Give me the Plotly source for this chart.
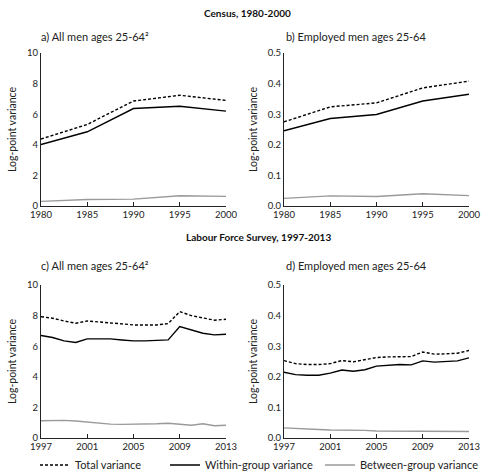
import plotly.graph_objects as go
from plotly.subplots import make_subplots

census_years = [1980, 1985, 1990, 1995, 2000]
a_total = [4.38, 5.33, 6.86, 7.24, 6.9]
a_within = [4.02, 4.85, 6.37, 6.52, 6.2]
a_between = [0.3, 0.42, 0.45, 0.67, 0.63]
b_total = [0.275, 0.324, 0.337, 0.386, 0.408]
b_within = [0.246, 0.286, 0.299, 0.343, 0.365]
b_between = [0.025, 0.033, 0.031, 0.040, 0.034]

lfs_years = list(range(1997, 2014))
c_total = [7.93, 7.83, 7.65, 7.5, 7.65, 7.57, 7.52, 7.46, 7.39, 7.39, 7.39, 7.48, 8.26, 8.0, 7.87, 7.7, 7.76]
c_within = [6.7, 6.57, 6.35, 6.24, 6.48, 6.46, 6.48, 6.41, 6.35, 6.35, 6.39, 6.41, 7.28, 7.07, 6.85, 6.74, 6.78]
c_between = [1.13, 1.15, 1.15, 1.11, 1.04, 0.96, 0.91, 0.89, 0.89, 0.93, 0.93, 0.96, 0.89, 0.83, 0.93, 0.8, 0.83]
d_total = [0.253, 0.243, 0.240, 0.240, 0.243, 0.253, 0.249, 0.255, 0.263, 0.265, 0.266, 0.266, 0.281, 0.274, 0.275, 0.277, 0.286]
d_within = [0.215, 0.207, 0.205, 0.205, 0.212, 0.222, 0.218, 0.223, 0.235, 0.238, 0.240, 0.239, 0.252, 0.248, 0.249, 0.252, 0.262]
d_between = [0.033, 0.032, 0.031, 0.028, 0.026, 0.026, 0.025, 0.025, 0.023, 0.023, 0.022, 0.022, 0.023, 0.022, 0.023, 0.022, 0.021]

series_names = ["Total variance", "Within-group variance", "Between-group variance"]
panel_titles = ["a) All men ages 25-64²", "b) Employed men ages 25-64",
                "c) All men ages 25-64²", "d) Employed men ages 25-64"]
section_titles = ["Census, 1980-2000", "Labour Force Survey, 1997-2013"]
census_ticks = [1980, 1985, 1990, 1995, 2000]
lfs_ticks = [1997, 2001, 2005, 2009, 2013]

FONT = "Lato, sans-serif"
W, H = 481, 476

fig = make_subplots(rows=2, cols=2)

styles = [dict(color="black", width=1.4, dash="3px,2px"),
          dict(color="black", width=1.4),
          dict(color="#9a9a9a", width=1.4)]
legend_ids = ["legend", "legend2", "legend3"]

panels = [
    (1, 1, census_years, [a_total, a_within, a_between]),
    (1, 2, census_years, [b_total, b_within, b_between]),
    (2, 1, lfs_years, [c_total, c_within, c_between]),
    (2, 2, lfs_years, [d_total, d_within, d_between]),
]
for i, (r, c, xs, ys) in enumerate(panels):
    for j, y in enumerate(ys):
        fig.add_trace(go.Scatter(x=xs, y=y, mode="lines", name=series_names[j],
                                 line=styles[j], showlegend=(i == 0),
                                 legend=legend_ids[j]), row=r, col=c)

def px_x(p):
    return p / W

def px_y(p):
    return 1 - p / H

xdom = [(px_x(41), px_x(226)), (px_x(284), px_x(469))]
ydom = [(px_y(206), px_y(53)), (px_y(438), px_y(285))]

axis_font = dict(family=FONT, size=9.5, color="#222")
for i, (r, c, xs, ys) in enumerate(panels):
    k = i + 1
    xa = "xaxis" if k == 1 else f"xaxis{k}"
    ya = "yaxis" if k == 1 else f"yaxis{k}"
    ticks = census_ticks if r == 1 else lfs_ticks
    pct = (c == 2)
    fig.layout[xa].update(domain=xdom[c - 1], range=[xs[0], xs[-1]], tickvals=ticks,
                          showline=True, linecolor="#222", linewidth=1, showgrid=False,
                          zeroline=False, ticks="inside", ticklen=4, tickcolor="#222",
                          tickfont=axis_font, automargin=False, ticklabeloverflow="allow")
    fig.layout[ya].update(domain=ydom[r - 1], range=[0, 0.5] if pct else [0, 10],
                          tickvals=[0, 0.1, 0.2, 0.3, 0.4, 0.5] if pct else [0, 2, 4, 6, 8, 10],
                          tickformat=".1f" if pct else "d",
                          showline=True, linecolor="#222", linewidth=1, showgrid=False,
                          zeroline=False, ticks="", tickfont=axis_font, automargin=False,
                          ticklabeloverflow="allow",
                          title=dict(text="Log-point variance", standoff=8,
                                     font=dict(family=FONT, size=10.5, color="#222")))

annotations = [
    dict(text="<b>" + section_titles[0] + "</b>", x=px_x(247), y=px_y(13)),
    dict(text="<b>" + section_titles[1] + "</b>", x=px_x(258), y=px_y(237)),
]
for a in annotations:
    a.update(xref="paper", yref="paper", xanchor="center", yanchor="middle",
             showarrow=False, font=dict(family=FONT, size=10, color="#111"))
pt_pos = [(39, 37), (284, 37), (39, 265), (284, 265)]
for t, (x, y) in zip(panel_titles, pt_pos):
    annotations.append(dict(text=t, x=px_x(x), y=px_y(y), xref="paper", yref="paper",
                            xanchor="left", yanchor="middle", showarrow=False,
                            font=dict(family=FONT, size=11, color="#222")))
fig.update_layout(annotations=annotations)

leg_x = [35, 165, 320]
leg_common = dict(orientation="h", yanchor="middle", y=px_y(465), xanchor="left",
                  font=dict(family=FONT, size=11, color="#222"),
                  bgcolor="rgba(0,0,0,0)", borderwidth=0)
fig.update_layout(
    width=W, height=H, margin=dict(l=0, r=0, t=0, b=0, autoexpand=False),
    paper_bgcolor="white", plot_bgcolor="white",
    font=dict(family=FONT, size=10, color="#222"),
    legend=dict(x=px_x(leg_x[0]), **leg_common),
    legend2=dict(x=px_x(leg_x[1]), **leg_common),
    legend3=dict(x=px_x(leg_x[2]), **leg_common),
)

fig.write_html(
    "out.html",
    config={"displayModeBar": False},
    post_script=("document.body.style.margin='0';"
                 "document.body.style.overflow='hidden';"
                 "document.documentElement.style.overflow='hidden';"),
)
